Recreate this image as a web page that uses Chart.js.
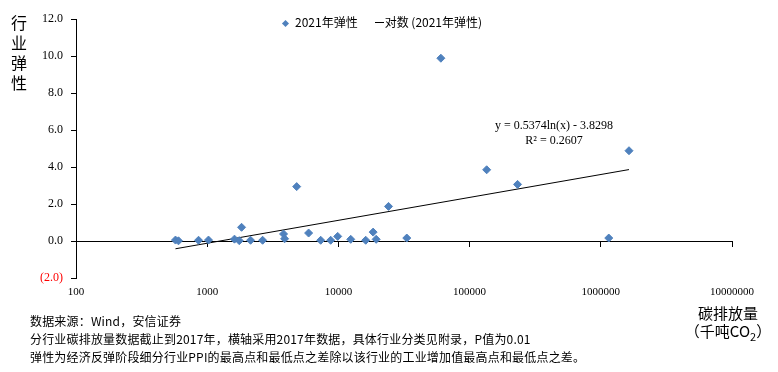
<!DOCTYPE html>
<html>
<head>
<meta charset="utf-8">
<script src="https://cdn.jsdelivr.net/npm/chart.js@4.4.1/dist/chart.umd.min.js"></script>
<style>
  body { margin: 0; background: #fff; }
  #wrap { position: relative; width: 778px; height: 372px; overflow: hidden; font-family: "Noto Sans CJK SC", sans-serif; color: #000; }
  #chart { position: absolute; left: 0; top: 0; }
  .txt { position: absolute; white-space: nowrap; }
  #ytitle { left: 10px; top: 12px; font-size: 16px; line-height: 20px; width: 18px; text-align: center; }
  #legend { left: 280px; top: 13px; font-size: 12px; line-height: 18px; }
  #legend .dia { display: inline-block; width: 5px; height: 5px; background: #4F81BD; transform: rotate(45deg); margin: 0 7px 1px 3px; vertical-align: middle; }
  #legend .ln { display: inline-block; width: 9px; border-top: 1px solid #000; margin: 0 1px 3px 17px; vertical-align: middle; }
  #eq { left: 493px; top: 118px; font-family: "Liberation Serif", serif; font-size: 12px; line-height: 15px; text-align: center; width: 122px; }
  #xtitle { left: 680px; top: 304px; font-size: 15px; line-height: 18px; text-align: center; width: 96px; }
  #notes { left: 30px; top: 312px; font-size: 12px; line-height: 18px; letter-spacing: 0.18px; }
</style>
</head>
<body>
<div id="wrap">
  <canvas id="chart" width="778" height="372"></canvas>
  <div class="txt" id="ytitle">行<br>业<br>弹<br>性</div>
  <div class="txt" id="legend"><span class="dia"></span>2021年弹性<span class="ln"></span>对数 (2021年弹性)</div>
  <div class="txt" id="eq">y = 0.5374ln(x) - 3.8298<br>R² = 0.2607</div>
  <div class="txt" id="xtitle">碳排放量<br>（千吨CO<sub style="font-size:11px;line-height:0">2</sub>）</div>
  <div class="txt" id="notes">数据来源：Wind，安信证券<br>分行业碳排放量数据截止到2017年，横轴采用2017年数据，具体行业分类见附录，P值为0.01<br>弹性为经济反弹阶段细分行业PPI的最高点和最低点之差除以该行业的工业增加值最高点和最低点之差。</div>
</div>
<script>
// 碳排放量（千吨CO2, 2017年）
const emissions = [573, 604, 859, 1023, 1614, 1755, 1828, 2141, 2644, 3818, 3890, 4810, 5930, 7330,
  8730, 9880, 12420, 16150, 18400, 19400, 24100, 33200, 60400, 134900, 232000, 1150000, 1640000];
// 2021年弹性
const elasticity = [0.05, 0.01, 0.04, 0.05, 0.10, 0.02, 0.74, 0.04, 0.04, 0.38, 0.12, 2.94, 0.43, 0.04,
  0.04, 0.25, 0.09, 0.04, 0.48, 0.09, 1.87, 0.16, 9.88, 3.85, 3.06, 0.16, 4.88];
// 对数趋势线两端
const trendX = [573, 1640000];
const trendY = [-0.42, 3.86];
const xTicks = [100, 1000, 10000, 100000, 1000000, 10000000];
const yTicks = [-2, 0, 2, 4, 6, 8, 10, 12];

const serif = { family: 'Liberation Serif', size: 12 };

const points = emissions.map((x, i) => ({ x: x, y: elasticity[i] }));
const trend = trendX.map((x, i) => ({ x: x, y: trendY[i] }));

function decadeTicks(scale) {
  scale.ticks = xTicks.map((v) => ({ value: v }));
}

new Chart(document.getElementById('chart').getContext('2d'), {
  type: 'scatter',
  data: {
    datasets: [
      {
        label: '2021年弹性',
        data: points,
        pointStyle: 'rectRot',
        pointRadius: 4,
        pointBackgroundColor: '#4F81BD',
        pointBorderColor: '#4F81BD',
        pointBorderWidth: 1,
      },
      {
        label: '对数 (2021年弹性)',
        type: 'line',
        data: trend,
        borderColor: '#000',
        borderWidth: 1,
        pointRadius: 0,
        fill: false,
      },
    ],
  },
  options: {
    responsive: false,
    animation: false,
    layout: { padding: { top: 19, left: 40, right: 46, bottom: 0 } },
    plugins: { legend: { display: false }, tooltip: { enabled: false } },
    scales: {
      x: {
        type: 'logarithmic',
        position: 'bottom',
        min: 100,
        max: 10000000,
        afterBuildTicks: decadeTicks,
        afterFit: (scale) => { scale.height = 94; },
        border: { display: false },
        grid: { display: false, drawTicks: false },
        ticks: {
          padding: 8,
          color: '#000',
          font: { family: 'Liberation Serif', size: 11 },
          maxRotation: 0,
          autoSkip: false,
          callback: (v) => String(v),
        },
      },
      xZero: {
        type: 'logarithmic',
        position: { y: 0 },
        min: 100,
        max: 10000000,
        afterBuildTicks: decadeTicks,
        border: { display: true, color: '#000', width: 1 },
        grid: { drawOnChartArea: false, drawTicks: true, tickLength: 5, color: '#000' },
        ticks: { display: false },
      },
      y: {
        min: -2,
        max: 12,
        afterBuildTicks: (scale) => { scale.ticks = yTicks.map((v) => ({ value: v })); },
        afterFit: (scale) => { scale.width = 36; },
        border: { display: true, color: '#000', width: 1 },
        grid: { drawOnChartArea: false, drawTicks: true, tickLength: 5, color: '#000' },
        ticks: {
          padding: 8,
          font: serif,
          color: (ctx) => (ctx.tick.value < 0 ? '#FF0000' : '#000'),
          callback: (v) => (v < 0 ? '(' + Math.abs(v).toFixed(1) + ')' : v.toFixed(1)),
        },
      },
    },
  },
});
</script>
</body>
</html>
